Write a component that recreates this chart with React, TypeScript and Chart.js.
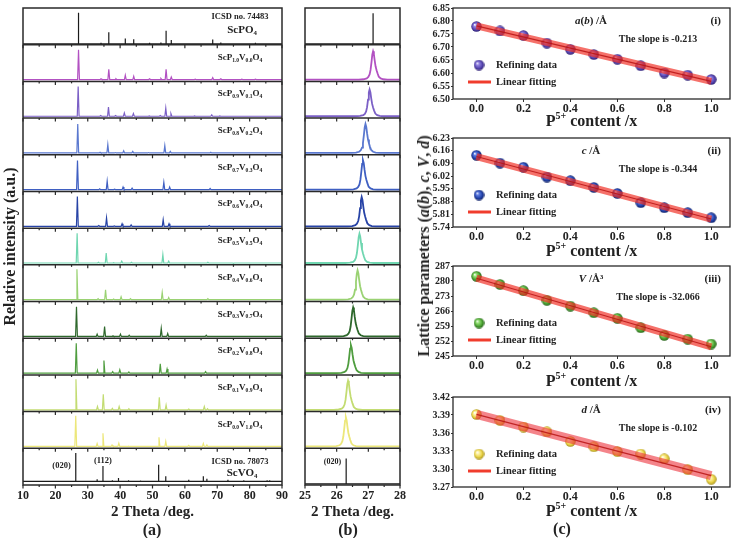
import React, { useEffect, useRef } from 'react';
import { Chart, registerables } from 'chart.js';

Chart.register(...registerables);

const FONT = '"Liberation Serif", "Times New Roman", serif';
Chart.defaults.font.family = FONT;
(Chart.defaults.font as any).weight = 'bold';
Chart.defaults.color = '#222';

type Peak = [number, number];

// ---------------- Panel (a) data ----------------
const tickLabelsA = [10, 20, 30, 40, 50, 60, 70, 80, 90];
const tickMarksA = [10, 15, 20, 25, 30, 35, 40, 45, 50, 55, 60, 65, 70, 75, 80, 85, 90];
const pContent = ['1.0', '0.9', '0.8', '0.7', '0.6', '0.5', '0.4', '0.3', '0.2', '0.1', '0.0'];
const vContent = ['0.0', '0.1', '0.2', '0.3', '0.4', '0.5', '0.6', '0.7', '0.8', '0.9', '1.0'];
const sampleColors = ['#b251c2', '#7b5fc6', '#5a78cf', '#3f5fc2', '#2743a6', '#6fd6b0', '#9ad273', '#2e682c', '#4f9d3f', '#c3dc72', '#ece77a'];

const refPO4Peaks: Peak[] = [[27.15, 0.87], [34.1, 0.05], [36.5, 0.34], [38.7, 0.04], [41.6, 0.17], [44.2, 0.15], [49.1, 0.05], [52.6, 0.06], [54.2, 0.38], [55.8, 0.13], [63.2, 0.04], [68.6, 0.14], [71.1, 0.06], [77.6, 0.04], [81.8, 0.05]];
const refVO4Peaks: Peak[] = [[26.3, 0.87], [32.9, 0.16], [34.7, 0.52], [37.6, 0.13], [39.5, 0.19], [42.6, 0.13], [46.3, 0.12], [51.9, 0.55], [54.1, 0.24], [61.2, 0.14], [65.7, 0.24], [66.8, 0.17], [73.3, 0.14], [78.2, 0.13], [85.4, 0.13], [86.2, 0.13]];

const s10Peaks: Peak[] = [[27.15, 0.86], [34.1, 0.07], [36.5, 0.33], [38.7, 0.07], [41.6, 0.17], [44.2, 0.14], [49.1, 0.07], [52.6, 0.08], [54.2, 0.33], [55.8, 0.12], [63.2, 0.06], [68.6, 0.1], [71.1, 0.07], [77.6, 0.06], [81.8, 0.06]];
const s09Peaks: Peak[] = [[27.04, 0.86], [34.0, 0.07], [36.4, 0.3], [38.6, 0.07], [41.3, 0.14], [44.1, 0.12], [49.0, 0.06], [52.4, 0.07], [54.1, 0.27], [55.7, 0.12], [63.0, 0.06], [68.3, 0.09], [70.8, 0.06], [77.3, 0.05], [81.5, 0.05]];
const s08Peaks: Peak[] = [[26.91, 0.84], [33.8, 0.07], [36.2, 0.28], [38.5, 0.06], [41.1, 0.11], [43.9, 0.09], [48.8, 0.06], [53.8, 0.25], [55.5, 0.09], [62.8, 0.05], [68.0, 0.07], [70.5, 0.05], [77.0, 0.05]];
const s07Peaks: Peak[] = [[26.83, 0.84], [33.7, 0.07], [36.0, 0.28], [38.3, 0.06], [40.9, 0.12], [43.7, 0.09], [48.6, 0.05], [53.5, 0.25], [55.3, 0.12], [62.6, 0.05], [67.8, 0.08], [70.3, 0.05], [76.8, 0.05]];
const s06Peaks: Peak[] = [[26.79, 0.86], [33.4, 0.07], [35.8, 0.28], [38.2, 0.06], [40.6, 0.12], [43.4, 0.09], [53.3, 0.23], [55.1, 0.12], [62.4, 0.05], [67.5, 0.07], [70.0, 0.05]];
const s05Peaks: Peak[] = [[26.72, 0.86], [33.3, 0.07], [35.7, 0.32], [38.0, 0.06], [40.5, 0.1], [43.5, 0.07], [53.2, 0.28], [55.0, 0.1], [62.2, 0.05], [67.1, 0.07], [69.5, 0.05], [75.0, 0.04]];
const s04Peaks: Peak[] = [[26.66, 0.88], [33.2, 0.08], [35.5, 0.32], [38.0, 0.07], [40.3, 0.13], [43.2, 0.08], [53.0, 0.25], [55.0, 0.11], [67.1, 0.08]];
const s03Peaks: Peak[] = [[26.52, 0.86], [32.9, 0.11], [35.2, 0.32], [37.8, 0.07], [40.1, 0.11], [42.8, 0.08], [52.7, 0.27], [54.7, 0.13], [66.6, 0.08]];
const s02Peaks: Peak[] = [[26.45, 0.86], [33.0, 0.13], [35.0, 0.39], [37.7, 0.09], [39.9, 0.14], [42.7, 0.08], [52.4, 0.3], [54.5, 0.16], [66.4, 0.09]];
const s01Peaks: Peak[] = [[26.36, 0.88], [33.0, 0.14], [34.8, 0.47], [37.6, 0.09], [39.7, 0.14], [42.7, 0.08], [52.1, 0.39], [54.2, 0.18], [61.2, 0.07], [66.0, 0.14], [67.0, 0.08]];
const s00Peaks: Peak[] = [[26.29, 0.89], [32.9, 0.13], [34.7, 0.41], [37.5, 0.09], [39.6, 0.14], [42.6, 0.06], [52.0, 0.3], [54.1, 0.19], [61.2, 0.08], [65.7, 0.13], [66.8, 0.09], [78.0, 0.05]];
const samplePeaksA = [s10Peaks, s09Peaks, s08Peaks, s07Peaks, s06Peaks, s05Peaks, s04Peaks, s03Peaks, s02Peaks, s01Peaks, s00Peaks];

// ---------------- Panel (b) data ----------------
const tickLabelsB = [25, 26, 27, 28];
const tickMarksB = [25, 25.5, 26, 26.5, 27, 27.5, 28];
const refPO4PeakB: Peak[] = [[27.15, 0.86]];
const refVO4PeakB: Peak[] = [[26.3, 0.72]];
const mainPeakPosB = [27.15, 27.04, 26.91, 26.83, 26.79, 26.72, 26.66, 26.52, 26.45, 26.36, 26.29];
const mainPeakHeightB = [0.82, 0.78, 0.84, 0.85, 0.85, 0.85, 0.85, 0.84, 0.81, 0.84, 0.85];
const profileDx = [-0.45, -0.3, -0.2, -0.15, -0.11, -0.08, -0.05, -0.025, 0, 0.025, 0.05, 0.08, 0.11, 0.14, 0.18, 0.24, 0.32, 0.45];
const profileRel = [0, 0.01, 0.04, 0.09, 0.18, 0.34, 0.62, 0.88, 1, 0.9, 0.68, 0.46, 0.33, 0.22, 0.1, 0.04, 0.01, 0];

// ---------------- Panel (c) data ----------------
const pContentX = [0, 0.1, 0.2, 0.3, 0.4, 0.5, 0.6, 0.7, 0.8, 0.9, 1.0];
const latticeAB = [6.779, 6.762, 6.744, 6.715, 6.691, 6.671, 6.653, 6.628, 6.6, 6.592, 6.575];
const latticeC = [6.135, 6.092, 6.069, 6.015, 5.995, 5.958, 5.925, 5.874, 5.846, 5.819, 5.791];
const cellVolume = [282.2, 278.4, 275.5, 271.0, 268.3, 265.2, 262.6, 258.2, 254.6, 252.9, 250.6];
const spacingD = [3.391, 3.381, 3.37, 3.362, 3.346, 3.337, 3.329, 3.325, 3.317, 3.299, 3.283];
const fitEndsX = [0, 1];
const fitAB = [6.781, 6.568];
const fitC = [6.128, 5.784];
const fitV = [281.3, 249.3];
const fitD = [3.391, 3.289];
const slopeLabels = ['-0.213', '-0.344', '-32.066', '-0.102'];
const romanLabels = ['(i)', '(ii)', '(iii)', '(iv)'];
const yTicksAB = [6.5, 6.55, 6.6, 6.65, 6.7, 6.75, 6.8, 6.85];
const yTicksC = [5.74, 5.81, 5.88, 5.95, 6.02, 6.09, 6.16, 6.23];
const yTicksV = [245, 252, 259, 266, 273, 280, 287];
const yTicksD = [3.27, 3.3, 3.33, 3.36, 3.39, 3.42];
const xTicksC = [0, 0.2, 0.4, 0.6, 0.8, 1.0];

// ---------------- helpers ----------------
function sorted(peaks: Peak[]) {
  return [...peaks].sort((a, b) => a[0] - b[0]);
}
function stickSeries(peaks: Peak[], base: number, off: number, xmin: number, xmax: number) {
  const pts = [{ x: xmin, y: base + off }];
  for (const [p, h] of sorted(peaks)) {
    pts.push({ x: p, y: base + off }, { x: p, y: h + off }, { x: p, y: base + off });
  }
  pts.push({ x: xmax, y: base + off });
  return pts;
}
function spikeSeries(peaks: Peak[], base: number, off: number, xmin: number, xmax: number, hw: number) {
  const pts = [{ x: xmin, y: base + off }];
  for (const [p, h] of sorted(peaks)) {
    pts.push({ x: p - hw, y: base + off }, { x: p, y: h + off }, { x: p + hw, y: base + off });
  }
  pts.push({ x: xmax, y: base + off });
  return pts;
}
function profileSeries(center: number, height: number, base: number, off: number, xmin: number, xmax: number) {
  const pts = [{ x: xmin, y: base + off }];
  profileDx.forEach((dx, k) => pts.push({ x: center + dx, y: off + base + (height - base) * profileRel[k] }));
  pts.push({ x: xmax, y: base + off });
  return pts;
}

function drawChem(ctx: CanvasRenderingContext2D, parts: [string, boolean][], cx: number, cy: number, size: number) {
  const big = `bold ${size}px ${FONT}`;
  const small = `bold ${size * 0.62}px ${FONT}`;
  let w = 0;
  for (const [t, sub] of parts) {
    ctx.font = sub ? small : big;
    w += ctx.measureText(t).width;
  }
  let x = cx - w / 2;
  ctx.textAlign = 'left';
  ctx.textBaseline = 'alphabetic';
  for (const [t, sub] of parts) {
    ctx.font = sub ? small : big;
    ctx.fillText(t, x, cy + size * 0.33 + (sub ? size * 0.22 : 0));
    x += ctx.measureText(t).width;
  }
}

function drawRich(ctx: CanvasRenderingContext2D, parts: [string, boolean][], cx: number, cy: number, size: number) {
  let w = 0;
  const f = (it: boolean) => `${it ? 'italic ' : ''}bold ${size}px ${FONT}`;
  for (const [t, it] of parts) {
    ctx.font = f(it);
    w += ctx.measureText(t).width;
  }
  let x = cx - w / 2;
  ctx.textAlign = 'left';
  ctx.textBaseline = 'middle';
  for (const [t, it] of parts) {
    ctx.font = f(it);
    ctx.fillText(t, x, cy);
    x += ctx.measureText(t).width;
  }
}

function line(ctx: CanvasRenderingContext2D, x1: number, y1: number, x2: number, y2: number) {
  ctx.beginPath();
  ctx.moveTo(x1, y1);
  ctx.lineTo(x2, y2);
  ctx.stroke();
}

// ---------------- stacked XRD charts ----------------
function stackPlugin(kind: 'a' | 'b') {
  return {
    id: 'stackFrame' + kind,
    afterDatasetsDraw(chart: any) {
      const { ctx, chartArea: a, scales } = chart;
      const x = scales.x, y = scales.y;
      const marks = kind === 'a' ? tickMarksA : tickMarksB;
      const majors = kind === 'a' ? tickLabelsA : tickLabelsB;
      ctx.save();
      ctx.strokeStyle = '#2a2a2a';
      ctx.lineWidth = 1.5;
      for (let k = 1; k < 13; k++) {
        const py = y.getPixelForValue(k);
        line(ctx, a.left, py, a.right, py);
      }
      ctx.strokeRect(a.left, a.top, a.right - a.left, a.bottom - a.top);
      ctx.lineWidth = 1.2;
      for (let k = 0; k < 13; k++) {
        const py = y.getPixelForValue(k);
        for (const v of marks) {
          const px = x.getPixelForValue(v);
          const len = majors.includes(v) ? 3.5 : 2;
          line(ctx, px, py, px, py + len);
        }
      }
      ctx.fillStyle = '#222';
      const topOf = (i: number) => y.getPixelForValue(13 - i);
      if (kind === 'a') {
        const cx = a.right - 42;
        ctx.font = `bold 8.5px ${FONT}`;
        ctx.textAlign = 'center';
        ctx.textBaseline = 'middle';
        ctx.fillText('ICSD no. 74483', cx, topOf(0) + 9);
        drawChem(ctx, [['ScPO', false], ['4', true]], cx + 2, topOf(0) + 21, 11);
        for (let i = 0; i < 11; i++) {
          drawChem(ctx, [['ScP', false], [pContent[i], true], ['V', false], [vContent[i], true], ['O', false], ['4', true]], cx, topOf(i + 1) + 12, 9);
        }
        ctx.font = `bold 8.5px ${FONT}`;
        ctx.textAlign = 'center';
        ctx.textBaseline = 'middle';
        ctx.fillText('ICSD no. 78073', cx, topOf(12) + 13);
        drawChem(ctx, [['ScVO', false], ['4', true]], cx + 2, topOf(12) + 24, 11);
        ctx.font = `bold 8.5px ${FONT}`;
        ctx.textAlign = 'right';
        ctx.textBaseline = 'middle';
        ctx.fillText('(020)', x.getPixelForValue(26.3) - 5, topOf(12) + 17);
        ctx.textAlign = 'center';
        ctx.fillText('(112)', x.getPixelForValue(34.7), topOf(12) + 12);
      } else {
        ctx.font = `bold 8px ${FONT}`;
        ctx.textAlign = 'right';
        ctx.textBaseline = 'middle';
        ctx.fillText('(020)', x.getPixelForValue(26.3) - 5, topOf(12) + 14);
      }
      ctx.restore();
    },
  };
}

function makeStackConfig(kind: 'a' | 'b') {
  const isA = kind === 'a';
  const xmin = isA ? 10 : 25;
  const xmax = isA ? 90 : 28;
  const datasets: any[] = [];
  const base = { pointRadius: 0, showLine: true, fill: false, tension: 0, borderWidth: isA ? 1.2 : 1.8 };
  datasets.push({ ...base, borderColor: '#1a1a1a', borderWidth: 1.2, data: stickSeries(isA ? refPO4Peaks : refPO4PeakB, 0.02, 12, xmin, xmax) });
  for (let i = 0; i < 11; i++) {
    const off = 11 - i;
    const data = isA
      ? spikeSeries(samplePeaksA[i], 0.05, off, xmin, xmax, 0.28)
      : profileSeries(mainPeakPosB[i], mainPeakHeightB[i], 0.05, off, xmin, xmax);
    datasets.push({ ...base, borderColor: sampleColors[i], data });
  }
  datasets.push({ ...base, borderColor: '#1a1a1a', borderWidth: 1.2, data: stickSeries(isA ? refVO4Peaks : refVO4PeakB, isA ? 0.1 : 0.03, 0, xmin, xmax) });

  return {
    type: 'scatter',
    data: { datasets },
    plugins: [stackPlugin(kind)],
    options: {
      animation: false,
      responsive: false,
      maintainAspectRatio: false,
      events: [],
      layout: { padding: isA ? { left: 1, top: 8, right: 13, bottom: 17 } : { left: 15, top: 8, right: 8, bottom: 17 } },
      plugins: { legend: { display: false }, tooltip: { enabled: false } },
      scales: {
        x: {
          type: 'linear',
          min: xmin,
          max: xmax,
          afterBuildTicks: (s: any) => { s.ticks = (isA ? tickLabelsA : tickLabelsB).map((v) => ({ value: v })); },
          afterFit: (s: any) => { s.height = 36; },
          grid: { display: false, drawTicks: false, tickLength: 0 },
          border: { display: false },
          ticks: { font: { size: 12, weight: 'bold', family: FONT }, color: '#222', padding: 4, maxRotation: 0, autoSkip: false },
          title: { display: true, text: '2 Theta /deg.', font: { size: 15, weight: 'bold', family: FONT }, color: '#222', padding: { top: 0, bottom: 0 } },
        },
        y: isA
          ? {
              type: 'linear', min: 0, max: 13,
              afterFit: (s: any) => { s.width = 22; },
              ticks: { display: false }, grid: { display: false, drawTicks: false, tickLength: 0 }, border: { display: false },
              title: { display: true, text: 'Relative intensity (a.u.)', font: { size: 16, weight: 'bold', family: FONT }, color: '#222', padding: { top: 0, bottom: 0 } },
            }
          : { type: 'linear', min: 0, max: 13, display: false },
      },
    },
  };
}

// ---------------- lattice charts ----------------
function makeBall(light: string, mid: string, dark: string) {
  const size = 11;
  const c = document.createElement('canvas');
  c.width = size;
  c.height = size;
  const g = c.getContext('2d')!;
  const r = size / 2;
  const grad = g.createRadialGradient(r - 1.8, r - 1.8, 0.2, r, r, r);
  grad.addColorStop(0, '#ffffff');
  grad.addColorStop(0.25, light);
  grad.addColorStop(0.7, mid);
  grad.addColorStop(1, dark);
  g.fillStyle = grad;
  g.beginPath();
  g.arc(r, r, r - 0.3, 0, Math.PI * 2);
  g.fill();
  return c;
}

const cSeries = [latticeAB, latticeC, cellVolume, spacingD];
const cFits = [fitAB, fitC, fitV, fitD];
const cYTicks = [yTicksAB, yTicksC, yTicksV, yTicksD];
const cDigits = [2, 2, 0, 2];
const ballColors: [string, string, string][] = [
  ['#9485e2', '#5544b0', '#281a6c'],
  ['#5f7de2', '#2040a8', '#0c1c5e'],
  ['#98e278', '#48a030', '#1d5810'],
  ['#fff4a8', '#e6cf40', '#9c8610'],
];
const paramParts: [string, boolean][][] = [
  [['a', true], ['(', false], ['b', true], [') /Å', false]],
  [['c', true], [' /Å', false]],
  [['V', true], [' /Å³', false]],
  [['d', true], [' /Å', false]],
];
const cCanvasTop = [0, 128, 256, 387];
const cCanvasH = [132, 132, 133, 133];
const cPadTop = [8, 10, 10, 10];
const cTitleY = [120, 250, 380, 510];

function cPlugin(idx: number, ball: HTMLCanvasElement) {
  return {
    id: 'cDeco' + idx,
    afterDatasetsDraw(chart: any) {
      const { ctx, chartArea: a } = chart;
      ctx.save();
      ctx.strokeStyle = '#2a2a2a';
      ctx.lineWidth = 1.3;
      ctx.strokeRect(a.left, a.top, a.right - a.left, a.bottom - a.top);
      ctx.fillStyle = '#222';
      drawRich(ctx, paramParts[idx], a.left + 138, a.top + 13, 11);
      ctx.font = `bold 11px ${FONT}`;
      ctx.textAlign = 'right';
      ctx.textBaseline = 'middle';
      ctx.fillText(romanLabels[idx], a.right - 9, a.top + 13);
      ctx.font = `bold 10px ${FONT}`;
      ctx.textAlign = 'center';
      ctx.fillText('The slope is ' + slopeLabels[idx], a.left + 205, a.top + 31);
      ctx.drawImage(ball, a.left + 26 - 5.5, a.top + 57 - 5.5);
      ctx.textAlign = 'left';
      ctx.font = `bold 10.5px ${FONT}`;
      ctx.fillText('Refining data', a.left + 43, a.top + 57);
      ctx.strokeStyle = 'rgb(240,60,45)';
      ctx.lineWidth = 3;
      line(ctx, a.left + 15, a.top + 74, a.left + 38, a.top + 74);
      ctx.fillText('Linear fitting', a.left + 43, a.top + 74);
      const ty = cTitleY[idx] - cCanvasTop[idx];
      const cx = (a.left + a.right) / 2;
      const big = `bold 16px ${FONT}`, sm = `bold 10px ${FONT}`;
      ctx.font = big;
      const w1 = ctx.measureText('P').width;
      const w3 = ctx.measureText(' content /x').width;
      ctx.font = sm;
      const w2 = ctx.measureText('5+').width;
      let x0 = cx - (w1 + w2 + w3) / 2;
      ctx.textBaseline = 'alphabetic';
      ctx.font = big;
      ctx.fillText('P', x0, ty + 5.5);
      x0 += w1;
      ctx.font = sm;
      ctx.fillText('5+', x0, ty - 1.5);
      x0 += w2;
      ctx.font = big;
      ctx.fillText(' content /x', x0, ty + 5.5);
      ctx.restore();
    },
  };
}

function makeLatticeConfig(idx: number) {
  const ball = makeBall(...ballColors[idx]);
  const ticks = cYTicks[idx];
  const pts = pContentX.map((x, k) => ({ x, y: cSeries[idx][k] }));
  const fitPts = fitEndsX.map((x, k) => ({ x, y: cFits[idx][k] }));
  const bandW = idx === 3 ? 9 : 7;
  const bandC = idx === 3 ? 'rgba(236,50,60,0.6)' : 'rgba(240,45,35,0.68)';
  return {
    type: 'scatter',
    data: {
      datasets: [
        { data: fitPts, showLine: true, borderColor: 'rgba(185,20,20,0.85)', borderWidth: 1.2, pointRadius: 0, order: -1 },
        { data: fitPts, showLine: true, borderColor: bandC, borderWidth: bandW, pointRadius: 0, order: 0 },
        { data: pts, showLine: false, pointStyle: ball, pointRadius: 5.5, order: 2 },
      ],
    },
    plugins: [cPlugin(idx, ball)],
    options: {
      animation: false,
      responsive: false,
      maintainAspectRatio: false,
      events: [],
      layout: { padding: { left: 23, top: cPadTop[idx], right: 7, bottom: 0 } },
      plugins: { legend: { display: false }, tooltip: { enabled: false } },
      scales: {
        x: {
          type: 'linear', min: -0.1, max: 1.08,
          afterBuildTicks: (s: any) => { s.ticks = xTicksC.map((v) => ({ value: v })); },
          afterFit: (s: any) => { s.height = 33; },
          grid: { display: true, drawOnChartArea: false, drawTicks: true, tickLength: 3, color: '#333' },
          border: { display: false },
          ticks: { font: { size: 12, weight: 'bold', family: FONT }, color: '#222', padding: 0, maxRotation: 0, autoSkip: false, callback: (v: any) => Number(v).toFixed(1) },
        },
        y: {
          type: 'linear', min: ticks[0], max: ticks[ticks.length - 1],
          afterBuildTicks: (s: any) => { s.ticks = ticks.map((v) => ({ value: v })); },
          afterFit: (s: any) => { s.width = 30; },
          grid: { display: true, drawOnChartArea: false, drawTicks: true, tickLength: 2, color: '#333' },
          border: { display: false },
          ticks: { font: { size: 10, weight: 'bold', family: FONT }, color: '#222', padding: 1, autoSkip: false, callback: (v: any) => Number(v).toFixed(cDigits[idx]) },
        },
      },
    },
  };
}

// ---------------- components ----------------
function ChartBox({ left, top, width, height, make }: { left: number; top: number; width: number; height: number; make: () => any }) {
  const ref = useRef<HTMLCanvasElement>(null);
  useEffect(() => {
    const chart = new Chart(ref.current as HTMLCanvasElement, make());
    return () => chart.destroy();
  }, []);
  return (
    <canvas
      ref={ref}
      width={width}
      height={height}
      style={{ position: 'absolute', left, top, width, height, display: 'block' }}
    />
  );
}

const labelStyle = (x: number, y: number): React.CSSProperties => ({
  position: 'absolute',
  left: x,
  top: y,
  transform: 'translate(-50%, -50%)',
  font: `bold 16px ${FONT}`,
  color: '#222',
  whiteSpace: 'nowrap',
  lineHeight: 1,
});

export default function App() {
  return (
    <div style={{ position: 'absolute', left: 0, top: 0, width: 737, height: 538, background: '#fff', overflow: 'hidden' }}>
      <ChartBox left={0} top={0} width={295} height={538} make={() => makeStackConfig('a')} />
      <ChartBox left={290} top={0} width={120} height={538} make={() => makeStackConfig('b')} />
      {[0, 1, 2, 3].map((i) => (
        <ChartBox key={i} left={400} top={cCanvasTop[i]} width={337} height={cCanvasH[i]} make={() => makeLatticeConfig(i)} />
      ))}
      <div style={labelStyle(152, 530)}>(a)</div>
      <div style={labelStyle(348, 530)}>(b)</div>
      <div style={labelStyle(562, 529)}>(c)</div>
      <div
        style={{
          position: 'absolute',
          left: 424,
          top: 246,
          transform: 'translate(-50%, -50%) rotate(-90deg)',
          font: `bold 16px ${FONT}`,
          color: '#222',
          whiteSpace: 'nowrap',
          lineHeight: 1,
        }}
      >
        Lattice parameters (<i>a</i>(<i>b</i>), <i>c</i>, <i>V</i>, <i>d</i>)
      </div>
    </div>
  );
}
